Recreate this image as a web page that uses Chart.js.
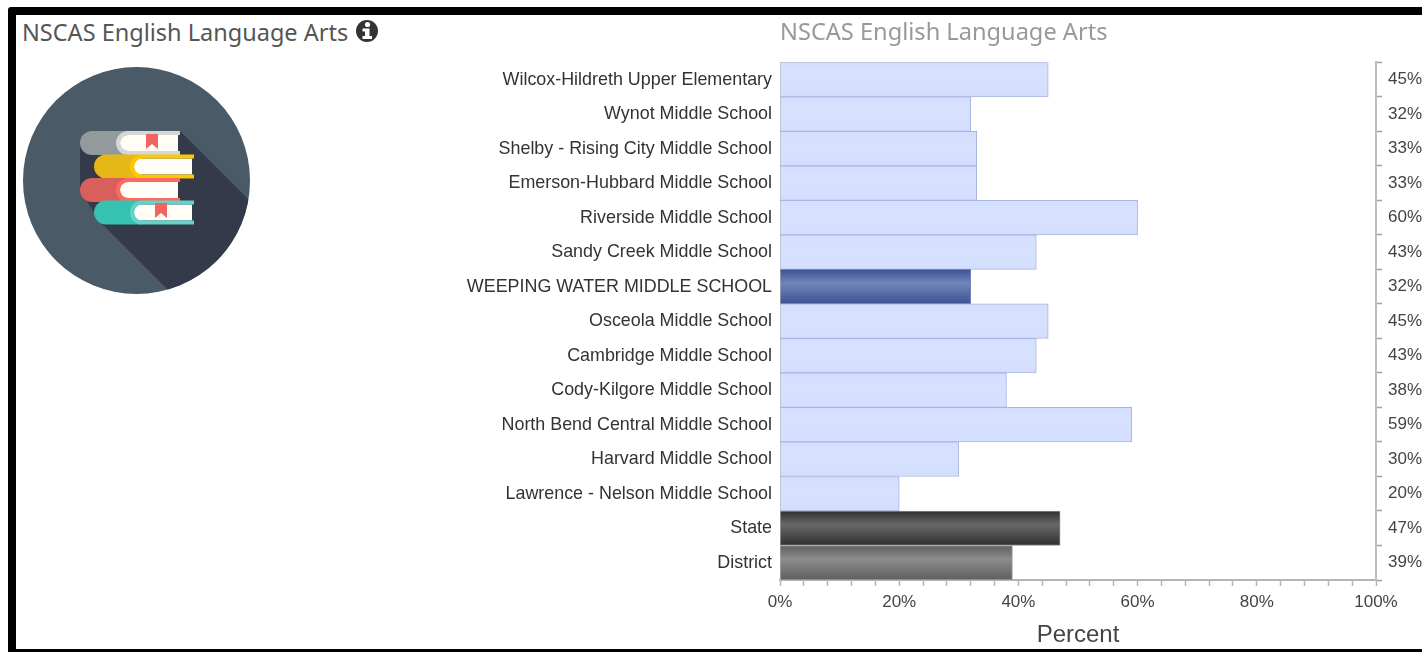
<!DOCTYPE html>
<html lang="en">
<head>
  <meta charset="UTF-8">
  <title>NSCAS English Language Arts</title>
  <script src="https://cdn.jsdelivr.net/npm/chart.js"></script>
  <style>
    html, body {
      margin: 0;
      padding: 0;
      width: 1422px;
      height: 652px;
      overflow: hidden;
      background: white;
    }
    #frame {
      position: absolute;
      left: 8px;
      top: 7px;
      width: 1500px;
      height: 634px;
      border: 8px solid black;
      border-radius: 3px;
    }
    #heading {
      position: absolute;
      left: 22px;
      top: 16px;
      font-family: "Noto Sans", sans-serif;
      font-size: 23.5px;
      line-height: 32px;
      color: #555;
      white-space: nowrap;
    }
    #art {
      position: absolute;
      left: 0;
      top: 0;
    }
    #chartBox {
      position: absolute;
      left: 0;
      top: 0;
      width: 1422px;
      height: 652px;
    }
  </style>
</head>
<body>

  <div id="frame"></div>
  <div id="heading">NSCAS English Language Arts</div>

  <svg id="art" width="400" height="310" viewBox="0 0 400 310">
    <defs>
      <clipPath id="disc"><circle cx="136.5" cy="180.5" r="113.5"></circle></clipPath>
      <g id="book">
        <path class="spine" d="M12 0H48V24H12A12 12 0 0 1 12 0Z"></path>
        <path fill="#fffdf5" d="M98 4H48A8 8 0 0 0 48 20H98Z"></path>
        <path class="cover" d="M100 0H48A12 12 0 0 0 48 24H100V20H48A8 8 0 0 1 48 4H100Z"></path>
      </g>
    </defs>
    <circle cx="367" cy="31" r="11" fill="#333"></circle>
    <circle cx="367.5" cy="24.5" r="2.6" fill="white"></circle>
    <path fill="white" d="M362.5 28.5H369.5V36H372V39H362.5V36H365V31.5H362.5Z"></path>

    <circle cx="136.5" cy="180.5" r="113.5" fill="#4a5a66"></circle>
    <polygon clip-path="url(#disc)" fill="#343a4a" points="180,131 300,251 300,422 100,222 80,190 80,140"></polygon>

    <g transform="translate(80,131)" style="--s:#939a9c;--c:#d2d8d9"><use href="#book"></use></g>
    <g transform="translate(94,154.5)" style="--s:#e6b817;--c:#f9c800"><use href="#book"></use></g>
    <g transform="translate(80,178)" style="--s:#d85f5c;--c:#fb6a63"><use href="#book"></use></g>
    <g transform="translate(94,200.5)" style="--s:#35c2b0;--c:#62d2cc"><use href="#book"></use></g>
    <path fill="#f2645f" d="M146 134H158V149L152 144L146 149Z"></path>
    <path fill="#f2645f" d="M155 203H167V218L161 213L155 218Z"></path>
    <style>
      .spine { fill: var(--s); }
      .cover { fill: var(--c); }
    </style>
  </svg>

  <div id="chartBox"><canvas id="schoolChart"></canvas></div>

  <script>
    const schools = [
      'Wilcox-Hildreth Upper Elementary',
      'Wynot Middle School',
      'Shelby - Rising City Middle School',
      'Emerson-Hubbard Middle School',
      'Riverside Middle School',
      'Sandy Creek Middle School',
      'WEEPING WATER MIDDLE SCHOOL',
      'Osceola Middle School',
      'Cambridge Middle School',
      'Cody-Kilgore Middle School',
      'North Bend Central Middle School',
      'Harvard Middle School',
      'Lawrence - Nelson Middle School',
      'State',
      'District'
    ];
    const percents = [45, 32, 33, 33, 60, 43, 32, 45, 43, 38, 59, 30, 20, 47, 39];

    // edge colour, centre colour, border
    const normalBar = ['#d3deff', '#d8e2ff', '#aab5dd'];
    const selectedBar = ['#3c5296', '#7284ba', '#7282b6'];
    const stateBar = ['#2f2f2f', '#696969', '#8a8a8a'];
    const districtBar = ['#5e5e5e', '#8c8c8c', '#a0a0a0'];

    function barStyle(name) {
      if (name === 'WEEPING WATER MIDDLE SCHOOL') return selectedBar;
      if (name === 'State') return stateBar;
      if (name === 'District') return districtBar;
      return normalBar;
    }

    function barFill(context) {
      const chart = context.chart;
      const style = barStyle(schools[context.dataIndex]);
      if (!chart.chartArea || !chart.scales.y) return style[0];
      const mid = chart.scales.y.getPixelForValue(context.dataIndex);
      const half = (chart.chartArea.bottom - chart.chartArea.top) / schools.length / 2;
      const grad = chart.ctx.createLinearGradient(0, mid - half, 0, mid + half);
      grad.addColorStop(0, style[0]);
      grad.addColorStop(0.4, style[1]);
      grad.addColorStop(1, style[0]);
      return grad;
    }

    const chart = new Chart(document.getElementById('schoolChart'), {
      type: 'bar',
      data: {
        labels: schools,
        datasets: [{
          data: percents,
          backgroundColor: barFill,
          borderColor: context => barStyle(schools[context.dataIndex])[2],
          borderWidth: 1,
          barPercentage: 1,
          categoryPercentage: 1
        }]
      },
      options: {
        indexAxis: 'y',
        responsive: true,
        maintainAspectRatio: false,
        animation: false,
        layout: { padding: 0 },
        plugins: {
          legend: { display: false },
          tooltip: { enabled: false },
          title: {
            display: true,
            text: 'NSCAS English Language Arts',
            align: 'start',
            fullSize: false,
            color: '#999',
            font: { family: '"Noto Sans", sans-serif', size: 23.6, weight: 'normal' },
            padding: { top: 19, bottom: 15 }
          }
        },
        scales: {
          x: {
            min: 0,
            max: 100,
            afterFit: scale => { scale.height = 72; },
            border: { color: '#b5b5b5', width: 2 },
            grid: { drawOnChartArea: false, color: '#b5b5b5', tickLength: 6, tickWidth: 1.5 },
            ticks: {
              stepSize: 4,
              autoSkip: false,
              maxRotation: 0,
              color: '#444',
              padding: 6,
              font: { family: '"Liberation Sans", Arial, sans-serif', size: 17 },
              callback: value => (value % 20 === 0 ? value + '%' : '')
            },
            title: {
              display: true,
              text: 'Percent',
              color: '#444',
              padding: { top: 0, bottom: 2 },
              font: { family: '"Liberation Sans", Arial, sans-serif', size: 24 }
            }
          },
          y: {
            position: 'left',
            afterFit: scale => { scale.width = 780; },
            border: { color: '#b5b5b5', width: 1 },
            grid: { display: false, drawTicks: false },
            ticks: {
              autoSkip: false,
              color: '#333',
              padding: 8,
              font: { family: '"Liberation Sans", Arial, sans-serif', size: 17.9 }
            }
          },
          y1: {
            type: 'category',
            position: 'right',
            labels: percents.map(p => p + '%'),
            afterFit: scale => { scale.width = 46; },
            border: { color: '#bdbdbd', width: 2 },
            grid: { offset: true, drawOnChartArea: false, color: '#a0a0a0', tickLength: 6, tickWidth: 1.5 },
            ticks: {
              autoSkip: false,
              color: '#444',
              padding: 6,
              font: { family: '"Liberation Sans", Arial, sans-serif', size: 17 }
            }
          }
        }
      }
    });
  </script>

</body>
</html>
